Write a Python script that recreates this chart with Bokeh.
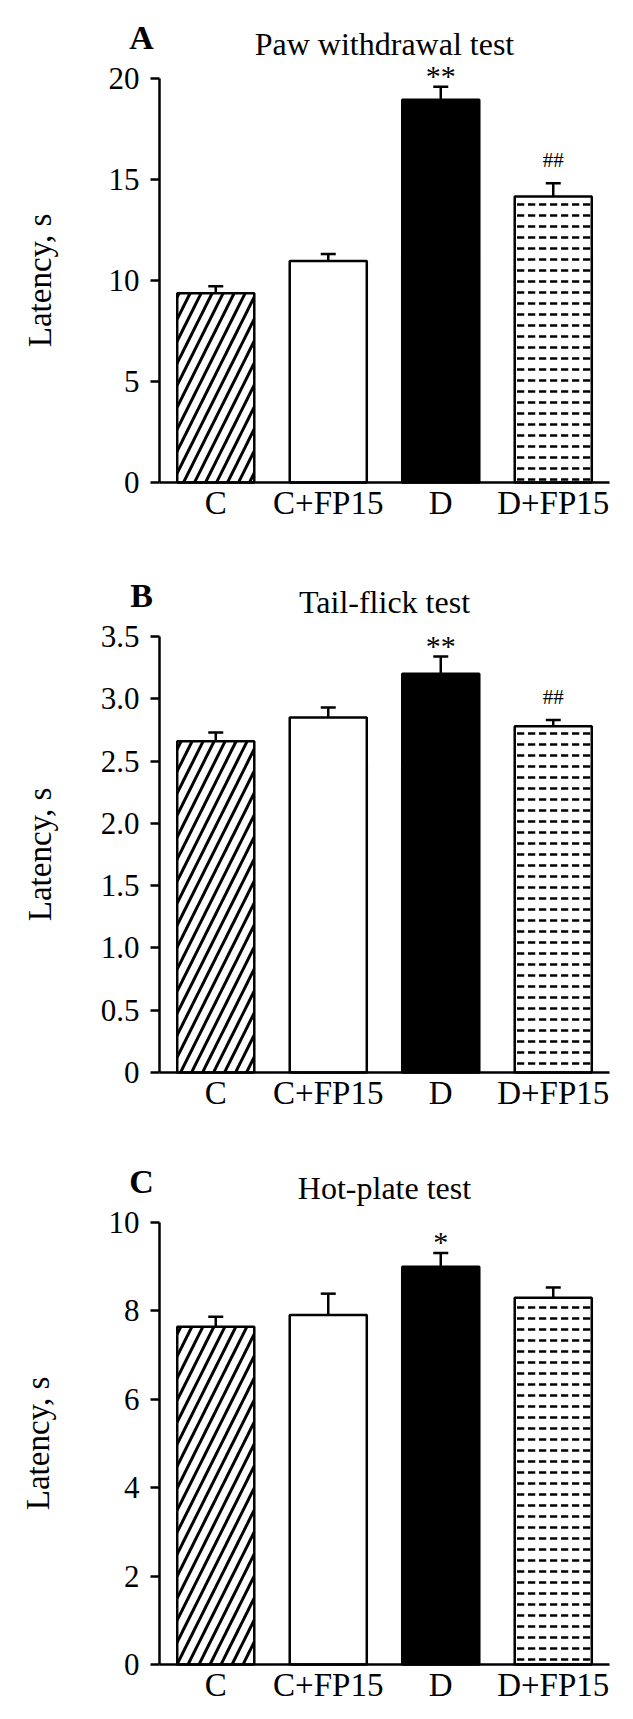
from bokeh.plotting import figure
from bokeh.layouts import column
from bokeh.models import Range1d, FixedTicker, Whisker, TeeHead, ColumnDataSource
from bokeh.core.properties import value
from bokeh.embed import file_html
from bokeh.resources import INLINE

# ---------------- data ----------------
groups = ["C", "C+FP15", "D", "D+FP15"]

paw_mean = [9.37, 10.96, 18.95, 14.16]
paw_sem = [0.35, 0.35, 0.64, 0.65]
paw_sig = ["", "", "**", "##"]
paw_ticks = [0, 5, 10, 15, 20]
paw_tick_labels = ["0", "5", "10", "15", "20"]

tail_mean = [2.66, 2.85, 3.20, 2.78]
tail_sem = [0.07, 0.08, 0.14, 0.05]
tail_sig = ["", "", "**", "##"]
tail_ticks = [0, 0.5, 1.0, 1.5, 2.0, 2.5, 3.0, 3.5]
tail_tick_labels = ["0", "0.5", "1.0", "1.5", "2.0", "2.5", "3.0", "3.5"]

hot_mean = [7.64, 7.91, 9.00, 8.30]
hot_sem = [0.23, 0.48, 0.31, 0.23]
hot_sig = ["", "", "*", ""]
hot_ticks = [0, 2, 4, 6, 8, 10]
hot_tick_labels = ["0", "2", "4", "6", "8", "10"]

# ---------------- styles / layout ----------------
bar_fill = ["white", "white", "black", "white"]
bar_hatch = ["/", " ", " ", '"']
bar_hatch_scale = [22, 12, 12, 11]
bar_hatch_weight = [3, 1, 1, 2.5]
FONT = "Liberation Serif"
FIG_W = 633
AXIS_X_PX = 159      # pixel position of the y axis line
RIGHT_PX = 609       # pixel position of the right end of the x axis line


def make_panel(letter, title, mean, sem, sig, ticks, tick_labels, height,
               top_tick_px, base_px, label_standoff):
    n = len(groups)
    xs = list(range(n))
    upper = [m + s for m, s in zip(mean, sem)]
    ymax = ticks[-1]
    # ranges so that the frame fills the whole figure; axes sit at fixed places
    xppu = (RIGHT_PX - AXIS_X_PX) / n
    x_start = -0.5 - AXIS_X_PX / xppu
    x_end = n - 0.5 + (FIG_W - RIGHT_PX) / xppu
    yppu = (base_px - top_tick_px) / ymax
    y_end = ymax + top_tick_px / yppu
    y_start = -(height - base_px) / yppu

    p = figure(width=FIG_W, height=height, output_backend="svg", toolbar_location=None,
               x_range=Range1d(x_start, x_end), y_range=Range1d(y_start, y_end),
               min_border_left=0, min_border_top=0, min_border_right=0,
               min_border_bottom=0)
    p.outline_line_color = None
    p.grid.visible = False
    p.background_fill_color = "white"
    p.border_fill_color = "white"

    src = ColumnDataSource(dict(x=xs, top=mean, fill=bar_fill, hatch=bar_hatch,
                                hscale=bar_hatch_scale, hweight=bar_hatch_weight))
    p.vbar(x="x", top="top", bottom=0, width=0.685, source=src,
           fill_color="fill", line_color="black", line_width=2.5,
           hatch_pattern="hatch", hatch_scale="hscale", hatch_color="black",
           hatch_weight="hweight")

    wsrc = ColumnDataSource(dict(base=xs, lower=mean, upper=upper))
    p.add_layout(Whisker(base="base", lower="lower", upper="upper", source=wsrc,
                         dimension="height", line_color="black", line_width=2.5,
                         lower_head=None,
                         upper_head=TeeHead(size=15, line_color="black", line_width=2.5)))

    star_i = [i for i, s in enumerate(sig) if s.startswith("*")]
    hash_i = [i for i, s in enumerate(sig) if s.startswith("#")]
    if star_i:
        p.text(x=[xs[i] for i in star_i], y=[upper[i] for i in star_i],
               text=[sig[i] for i in star_i], text_font=value(FONT),
               text_font_size="30px", text_align="center",
               text_baseline="alphabetic", y_offset=-11, text_color="black")
    if hash_i:
        p.text(x=[xs[i] for i in hash_i], y=[upper[i] for i in hash_i],
               text=[sig[i] for i in hash_i], text_font=value(FONT),
               text_font_size="21px", text_align="center",
               text_baseline="alphabetic", y_offset=-23, text_color="black")

    # panel title and letter
    p.text(x=[(n - 1) / 2], y=[ymax], text=[title], text_font=value(FONT),
           text_font_size="32px", text_align="center", text_baseline="middle",
           y_offset=-35, text_color="black")
    p.text(x=[-0.5], y=[ymax], text=[letter], text_font=value(FONT),
           text_font_size="34px", text_font_style="bold", text_align="center",
           text_baseline="middle", x_offset=-18, y_offset=-41, text_color="black")

    # x axis, drawn along y = 0
    p.xaxis.fixed_location = 0
    p.xaxis.bounds = (-0.5, n - 0.5)
    p.xaxis.ticker = FixedTicker(ticks=xs)
    p.xaxis.major_label_overrides = {x: g for x, g in zip(xs, groups)}
    p.xaxis.major_tick_out = 0
    p.xaxis.major_tick_in = 0
    p.xaxis.minor_tick_out = 0
    p.xaxis.minor_tick_in = 0
    p.xaxis.major_label_standoff = 2
    p.xaxis.axis_line_width = 2.5
    p.xaxis.axis_line_color = "black"
    p.xaxis.major_label_text_font = FONT
    p.xaxis.major_label_text_font_size = "33px"
    p.xaxis.major_label_text_color = "black"

    # y axis, drawn at the left edge of the first bar slot
    p.yaxis.fixed_location = -0.5
    p.yaxis.bounds = (0, ymax)
    p.yaxis.ticker = FixedTicker(ticks=ticks)
    p.yaxis.major_label_overrides = {t: l for t, l in zip(ticks, tick_labels)}
    p.yaxis.major_tick_out = 9
    p.yaxis.major_tick_in = 0
    p.yaxis.minor_tick_out = 0
    p.yaxis.minor_tick_in = 0
    p.yaxis.major_tick_line_width = 2.5
    p.yaxis.major_tick_line_color = "black"
    p.yaxis.axis_line_width = 2.5
    p.yaxis.axis_line_color = "black"
    p.yaxis.major_label_standoff = 11
    p.yaxis.major_label_text_font = FONT
    p.yaxis.major_label_text_font_size = "31px"
    p.yaxis.major_label_text_color = "black"
    p.yaxis.axis_label = "Latency, s"
    p.yaxis.axis_label_text_font = FONT
    p.yaxis.axis_label_text_font_style = "normal"
    p.yaxis.axis_label_text_font_size = "33px"
    p.yaxis.axis_label_text_color = "black"
    p.yaxis.axis_label_standoff = label_standoff
    return p


pA = make_panel("A", "Paw withdrawal test", paw_mean, paw_sem, paw_sig,
                paw_ticks, paw_tick_labels, 540, 78, 482, 48)
pB = make_panel("B", "Tail-flick test", tail_mean, tail_sem, tail_sig,
                tail_ticks, tail_tick_labels, 585, 96, 532, 40)
pC = make_panel("C", "Hot-plate test", hot_mean, hot_sem, hot_sig,
                hot_ticks, hot_tick_labels, 594, 97, 539, 50)

layout = column(pA, pB, pC, spacing=0)
open("out.html", "w").write(file_html(layout, INLINE))
